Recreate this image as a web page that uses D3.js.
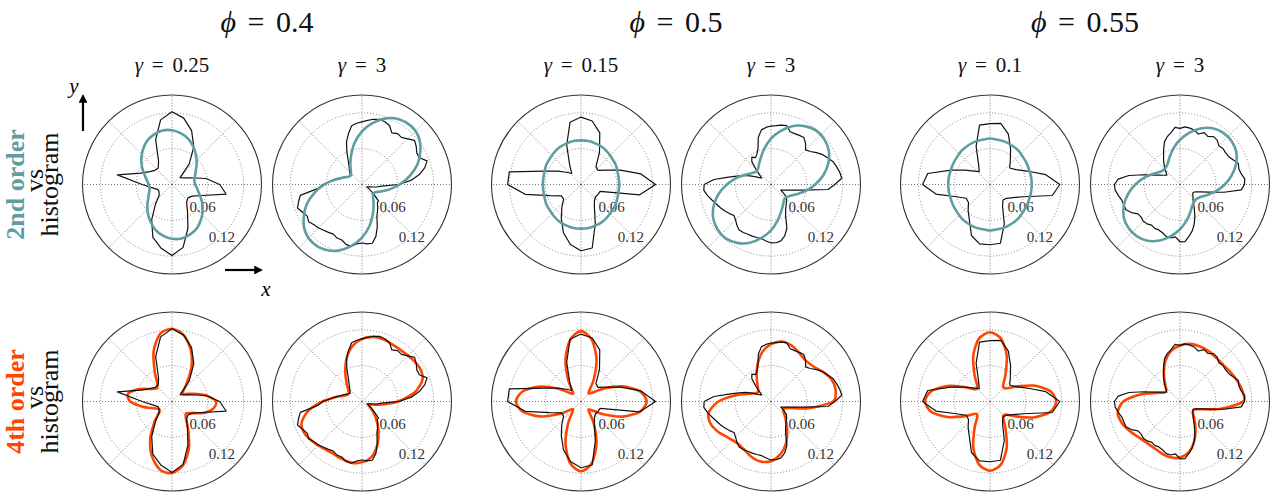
<!DOCTYPE html>
<html><head><meta charset="utf-8">
<script src="https://cdn.jsdelivr.net/npm/d3@7"></script>
<style>body{margin:0;background:#fff} svg{display:block}</style>
</head><body><svg id="c" width="1278" height="497"></svg>
<script>
// ---- data ----
// each series is sampled at equal angular steps, counter-clockwise from +x (0 deg)
const anglesCoarse = d3.range(0, 360, 10);
const anglesFine = d3.range(0, 360, 5);
const phiLabels = ["0.4", "0.5", "0.55"];
const gammaLabels = ["0.25", "3", "0.15", "3", "0.1", "3"];
const rTicks = [0.06, 0.12];
const rTickLabels = ["0.06", "0.12"];
const rowLabels = ["2nd order", "4th order"];

// histograms (same in both rows)
const hist1 = [0.080,0.058,0.033,0.022,0.018,0.045,0.073,0.096,0.113,0.122,0.110,0.080,0.045,0.036,0.037,0.043,0.056,0.093,0.050,0.033,0.025,0.025,0.028,0.043,0.068,0.094,0.108,0.119,0.107,0.078,0.052,0.038,0.035,0.039,0.054,0.092];
const hist2 = [0.062,0.083,0.098,0.109,0.116,0.106,0.106,0.111,0.115,0.108,0.103,0.104,0.100,0.109,0.112,0.113,0.111,0.108,0.105,0.103,0.100,0.088,0.076,0.060,0.046,0.038,0.033,0.029,0.026,0.024,0.026,0.029,0.033,0.037,0.045,0.053,0.066,0.074,0.105,0.110,0.115,0.110,0.106,0.109,0.105,0.103,0.100,0.098,0.096,0.099,0.099,0.104,0.105,0.100,0.098,0.100,0.100,0.090,0.075,0.059,0.052,0.046,0.040,0.039,0.027,0.018,0.012,0.009,0.011,0.016,0.024,0.033];
const hist3 = [0.125,0.102,0.070,0.048,0.037,0.039,0.062,0.092,0.108,0.113,0.106,0.070,0.038,0.024,0.032,0.045,0.066,0.122,0.123,0.095,0.055,0.038,0.038,0.050,0.066,0.086,0.102,0.111,0.108,0.070,0.045,0.035,0.032,0.033,0.034,0.100];
const hist4 = [0.107,0.119,0.117,0.114,0.111,0.105,0.100,0.093,0.086,0.082,0.090,0.096,0.095,0.094,0.094,0.102,0.101,0.099,0.098,0.096,0.093,0.082,0.064,0.056,0.052,0.056,0.050,0.035,0.025,0.019,0.023,0.032,0.045,0.056,0.072,0.096,0.112,0.113,0.108,0.102,0.097,0.093,0.089,0.085,0.081,0.084,0.089,0.093,0.093,0.092,0.092,0.092,0.092,0.095,0.098,0.098,0.096,0.089,0.078,0.058,0.049,0.044,0.040,0.037,0.034,0.026,0.019,0.022,0.028,0.037,0.054,0.096];
const hist5 = [0.117,0.095,0.066,0.050,0.043,0.053,0.069,0.090,0.104,0.102,0.101,0.068,0.038,0.028,0.035,0.048,0.070,0.106,0.113,0.092,0.060,0.046,0.047,0.057,0.069,0.091,0.101,0.101,0.100,0.070,0.042,0.034,0.036,0.044,0.060,0.106];
const hist6 = [0.108,0.109,0.104,0.102,0.104,0.098,0.094,0.093,0.094,0.092,0.097,0.098,0.093,0.096,0.090,0.094,0.096,0.097,0.094,0.096,0.088,0.083,0.076,0.065,0.055,0.048,0.041,0.035,0.030,0.027,0.031,0.037,0.046,0.063,0.087,0.104,0.110,0.109,0.105,0.101,0.100,0.100,0.094,0.086,0.085,0.087,0.086,0.083,0.085,0.084,0.086,0.090,0.091,0.088,0.096,0.096,0.088,0.080,0.070,0.059,0.048,0.040,0.034,0.031,0.028,0.026,0.026,0.029,0.036,0.049,0.075,0.103];

// 2nd order fits (top row)
const fit2_1 = [0.039,0.038,0.041,0.046,0.054,0.063,0.072,0.081,0.087,0.091,0.092,0.089,0.084,0.076,0.067,0.058,0.049,0.043,0.039,0.038,0.041,0.046,0.054,0.063,0.072,0.081,0.087,0.091,0.092,0.089,0.084,0.076,0.067,0.058,0.049,0.043];
const fit2_2 = [0.063,0.081,0.099,0.113,0.124,0.128,0.126,0.118,0.105,0.089,0.071,0.053,0.039,0.029,0.024,0.026,0.034,0.047,0.063,0.081,0.099,0.113,0.124,0.128,0.126,0.118,0.105,0.089,0.071,0.053,0.039,0.029,0.024,0.026,0.034,0.047];
const fit2_3 = [0.064,0.064,0.065,0.067,0.068,0.070,0.072,0.073,0.074,0.074,0.074,0.073,0.072,0.070,0.068,0.067,0.065,0.064,0.064,0.064,0.065,0.067,0.068,0.070,0.072,0.073,0.074,0.074,0.074,0.073,0.072,0.070,0.068,0.067,0.065,0.064];
const fit2_4 = [0.074,0.089,0.102,0.112,0.117,0.118,0.113,0.104,0.091,0.077,0.062,0.049,0.040,0.034,0.033,0.038,0.047,0.060,0.074,0.089,0.102,0.112,0.117,0.118,0.113,0.104,0.091,0.077,0.062,0.049,0.040,0.034,0.033,0.038,0.047,0.060];
const fit2_5 = [0.070,0.070,0.070,0.071,0.072,0.074,0.075,0.076,0.076,0.077,0.076,0.076,0.075,0.074,0.072,0.071,0.070,0.070,0.070,0.070,0.070,0.071,0.072,0.074,0.075,0.076,0.076,0.077,0.076,0.076,0.075,0.074,0.072,0.071,0.070,0.070];
const fit2_6 = [0.075,0.088,0.100,0.109,0.113,0.113,0.109,0.100,0.088,0.075,0.062,0.050,0.041,0.037,0.037,0.041,0.050,0.062,0.075,0.088,0.100,0.109,0.113,0.113,0.109,0.100,0.088,0.075,0.062,0.050,0.041,0.037,0.037,0.041,0.050,0.062];

// 4th order fits (bottom row)
const fit4_1 = [0.074,0.058,0.038,0.025,0.023,0.037,0.065,0.092,0.113,0.122,0.115,0.090,0.058,0.038,0.034,0.042,0.060,0.075,0.070,0.050,0.033,0.025,0.028,0.046,0.073,0.098,0.116,0.120,0.108,0.083,0.054,0.036,0.031,0.039,0.056,0.070];
const fit4_2 = [0.060,0.090,0.108,0.112,0.110,0.108,0.108,0.110,0.110,0.105,0.094,0.076,0.056,0.040,0.030,0.026,0.030,0.044,0.066,0.092,0.108,0.110,0.106,0.102,0.100,0.102,0.104,0.102,0.094,0.076,0.055,0.036,0.022,0.014,0.014,0.030];
const fit4_3 = [0.110,0.100,0.074,0.043,0.022,0.020,0.043,0.076,0.105,0.118,0.105,0.076,0.044,0.022,0.020,0.042,0.073,0.099,0.109,0.099,0.073,0.042,0.020,0.022,0.044,0.076,0.105,0.117,0.105,0.076,0.043,0.020,0.022,0.043,0.074,0.100];
const fit4_4 = [0.104,0.110,0.108,0.100,0.092,0.090,0.094,0.100,0.102,0.096,0.084,0.066,0.048,0.035,0.028,0.028,0.038,0.060,0.088,0.106,0.108,0.102,0.094,0.090,0.092,0.098,0.102,0.100,0.090,0.074,0.054,0.038,0.028,0.024,0.032,0.064];
const fit4_5 = [0.111,0.102,0.078,0.050,0.034,0.034,0.052,0.082,0.107,0.116,0.107,0.082,0.052,0.033,0.032,0.048,0.076,0.100,0.109,0.100,0.076,0.049,0.032,0.033,0.052,0.082,0.107,0.116,0.107,0.082,0.052,0.034,0.034,0.050,0.078,0.102];
const fit4_6 = [0.106,0.106,0.102,0.098,0.095,0.095,0.097,0.098,0.098,0.094,0.086,0.072,0.054,0.039,0.030,0.030,0.042,0.068,0.095,0.106,0.104,0.098,0.092,0.089,0.089,0.092,0.095,0.094,0.086,0.070,0.052,0.037,0.028,0.027,0.038,0.070];

const hists = [[anglesCoarse, hist1], [anglesFine, hist2], [anglesCoarse, hist3], [anglesFine, hist4], [anglesCoarse, hist5], [anglesFine, hist6]];
const fits2 = [fit2_1, fit2_2, fit2_3, fit2_4, fit2_5, fit2_6];
const fits4 = [fit4_1, fit4_2, fit4_3, fit4_4, fit4_5, fit4_6];

// ---- layout ----
const colX = [172, 362, 581, 771, 990, 1180];
const rowY = [184.5, 401.5];
const R = 89.5;
const TEAL = "#5f9ea0", ORANGE = "#ff4500";
const SERIF = "'Liberation Serif', 'DejaVu Serif', serif";

const svg = d3.select("#c");
const r = d3.scaleLinear().domain([0, 0.15]).range([0, R]);
const toRad = d => (90 - d) * Math.PI / 180;   // d3 radial angle (clockwise from up)

const radial = (angs, curve) => d3.lineRadial()
  .angle((d, i) => toRad(angs[i])).radius(d => r(d)).curve(curve);
const fitCurve = d3.curveCardinalClosed.tension(0.2);

for (let row = 0; row < 2; row++) {
  for (let c = 0; c < 6; c++) {
    const g = svg.append("g").attr("transform", `translate(${colX[c]},${rowY[row]})`);
    d3.range(0, 360, 45).forEach(a => {
      const t = a * Math.PI / 180;
      g.append("line").attr("x1", 0).attr("y1", 0)
        .attr("x2", R * Math.cos(t)).attr("y2", -R * Math.sin(t))
        .attr("stroke", "#666").attr("stroke-width", 0.9).attr("stroke-dasharray", "1,2");
    });
    rTicks.forEach(v => {
      g.append("circle").attr("r", r(v)).attr("fill", "none")
        .attr("stroke", "#777").attr("stroke-width", 0.9).attr("stroke-dasharray", "1,2");
    });
    g.append("circle").attr("r", R).attr("fill", "none").attr("stroke", "#333").attr("stroke-width", 1.1);
    rTicks.forEach((v, i) => {
      const t = -57.5 * Math.PI / 180, rr = r(v) - 3;
      g.append("text").attr("x", rr * Math.cos(t)).attr("y", -rr * Math.sin(t))
        .style("font-family", SERIF).attr("font-size", 15).attr("fill", "#333")
        .text(rTickLabels[i]);
    });
    const [hAng, hVal] = hists[c];
    const histPath = () => g.append("path").attr("d", radial(hAng, d3.curveLinearClosed)(hVal)).attr("fill", "none")
        .attr("stroke", "#111").attr("stroke-width", 1.2).attr("stroke-linejoin", "round");
    if (row === 0) {
      histPath();
      g.append("path").attr("d", radial(anglesCoarse, fitCurve)(fits2[c])).attr("fill", "none")
        .attr("stroke", TEAL).attr("stroke-width", 2.6);
    } else {
      g.append("path").attr("d", radial(anglesCoarse, fitCurve)(fits4[c])).attr("fill", "none")
        .attr("stroke", ORANGE).attr("stroke-width", 2.6);
      histPath();
    }
  }
}

// titles: symbol, "=", value as separate tspans
function mathLabel(x, y, sym, val, size, gap) {
  const t = svg.append("text").attr("x", x).attr("y", y).attr("text-anchor", "middle")
    .style("font-family", SERIF).attr("font-size", size).attr("fill", "#111");
  t.append("tspan").attr("font-style", "italic").text(sym);
  t.append("tspan").attr("dx", size * gap).text("=");
  t.append("tspan").attr("dx", size * gap).text(val);
}
phiLabels.forEach((p, i) => mathLabel((colX[2 * i] + colX[2 * i + 1]) / 2, 32, "\u03D5", p, 30, 0.38));
gammaLabels.forEach((gm, i) => mathLabel(colX[i], 72, "\u03B3", gm, 21, 0.42));

// row labels (rotated)
rowLabels.forEach((lab, row) => {
  const cy = rowY[row];
  const g = svg.append("g").style("font-family", SERIF).attr("font-size", 26).attr("text-anchor", "middle");
  g.append("text").attr("transform", `translate(24,${cy}) rotate(-90)`).attr("font-weight", "bold")
    .attr("fill", row === 0 ? TEAL : ORANGE).text(lab);
  g.append("text").attr("transform", `translate(43,${cy - 4}) rotate(-90)`).attr("fill", "#111").text("vs");
  g.append("text").attr("transform", `translate(58,${cy}) rotate(-90)`).attr("fill", "#111").text("histogram");
});

// axis arrows
const defs = svg.append("defs");
defs.append("marker").attr("id", "ah").attr("viewBox", "0 0 10 10").attr("refX", 2).attr("refY", 5)
  .attr("markerWidth", 4).attr("markerHeight", 4).attr("orient", "auto")
  .append("path").attr("d", "M0,0 L10,5 L0,10 z").attr("fill", "#000");
svg.append("line").attr("x1", 83).attr("y1", 131).attr("x2", 83).attr("y2", 101)
  .attr("stroke", "#000").attr("stroke-width", 2.2).attr("marker-end", "url(#ah)");
svg.append("line").attr("x1", 225).attr("y1", 270).attr("x2", 256).attr("y2", 270)
  .attr("stroke", "#000").attr("stroke-width", 2.2).attr("marker-end", "url(#ah)");
svg.append("text").attr("x", 74).attr("y", 93).attr("text-anchor", "middle").style("font-family", SERIF)
  .attr("font-style", "italic").attr("font-size", 21).text("y");
svg.append("text").attr("x", 266).attr("y", 296).attr("text-anchor", "middle").style("font-family", SERIF)
  .attr("font-style", "italic").attr("font-size", 21).text("x");
</script></body></html>
